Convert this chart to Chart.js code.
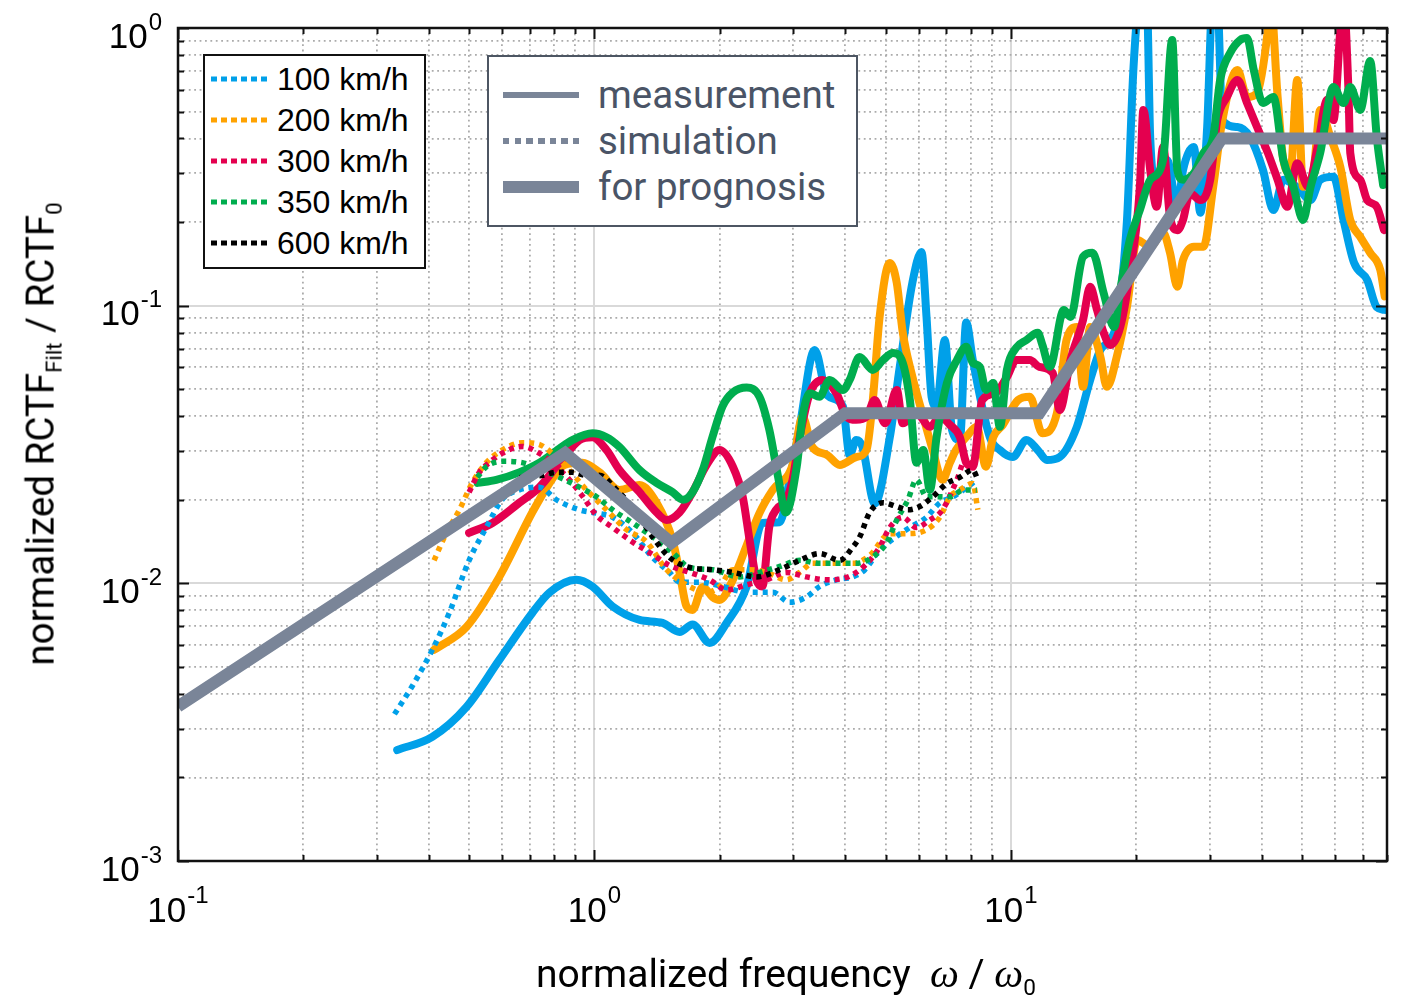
<!DOCTYPE html>
<html lang="en">
<head>
  <meta charset="UTF-8">
  <title>Normalized RCTF vs frequency</title>
  <style>
    body { margin: 0; background: #fff; }
    #wrap { position: relative; width: 1401px; height: 1001px; }
    #wrap canvas { display: block; }

    .legend { position: absolute; background: #fff; box-sizing: border-box; }
    .legend .row { position: absolute; left: 0; right: 0; height: 44px; }
    .legend .sample { position: absolute; top: 50%; transform: translateY(-50%); }
    .legend .txt { position: absolute; top: 0; line-height: 44px; white-space: nowrap; }

    #legSpeed { left: 203px; top: 54px; width: 223px; height: 215px; border: 2.5px solid #111;
      font: 32px 'Liberation Sans', Arial, sans-serif; color: #000; }
    #legType { left: 487px; top: 55px; width: 371px; height: 172px; border: 2px solid #4d5663;
      font: 38.5px Roboto, 'Noto Sans', sans-serif; color: #4a5466; }

    #yTitle { position: absolute; left: 42px; top: 434px; transform: translate(-50%, -50%) rotate(-90deg);
      white-space: nowrap; font: 38.5px Roboto, 'Noto Sans', sans-serif; color: #000; }
    #xTitle { position: absolute; left: 786px; top: 975px; transform: translate(-50%, -50%);
      white-space: nowrap; font: 39px Roboto, 'Noto Sans', sans-serif; color: #000; }
    sub { font-size: 58%; vertical-align: -0.35em; }
    .om { font-family: 'Liberation Serif', 'DejaVu Serif', serif; font-style: italic; font-size: 41px; }
  </style>
  <script src="https://cdn.jsdelivr.net/npm/chart.js"></script>
</head>
<body>
  <div id="wrap">
    <canvas id="chart"></canvas>
    <div id="legSpeed" class="legend"></div>
    <div id="legType" class="legend"></div>
    <div id="yTitle">normalized RCTF<sub>Filt</sub> / RCTF<sub>0</sub></div>
    <div id="xTitle">normalized frequency&nbsp;&nbsp;<span class="om">ω</span> / <span class="om">ω</span><sub>0</sub></div>
  </div>

  <script>
    // axis ranges and decade labels
    const xRange = [0.1, 80];
    const yRange = [0.001, 1];
    const xDecades = [0.1, 1, 10];
    const yDecades = [0.001, 0.01, 0.1, 1];

    // legend entries
    const speedLabels = ['100 km/h', '200 km/h', '300 km/h', '350 km/h', '600 km/h'];
    const speedColors = ['#00a0e9', '#ffa200', '#e4004f', '#00ad4e', '#000000'];
    const typeLabels = ['measurement', 'simulation', 'for prognosis'];
    const greyColor = '#7a8598';

    // prognosis envelope
    const progFreq = [0.1, 0.85, 1.53, 4.0, 11.7, 32.1, 80];
    const progVal = [0.0036, 0.0295, 0.014, 0.041, 0.041, 0.40, 0.40];

    // measurement 100 km/h
    const meas100Freq = [0.336, 0.408, 0.493, 0.591, 0.709, 0.779, 0.905, 0.989, 1.105, 1.283, 1.457, 1.601, 1.72, 1.89, 2.076, 2.32, 2.53, 2.784, 2.943, 3.11,
      3.38, 3.62, 3.95, 4.10, 4.25, 4.40, 4.71, 5.12, 5.41, 5.80, 6.10, 6.27, 6.45, 6.63, 6.94, 7.22, 7.54, 7.81, 8.10, 8.90,
      9.41, 10.1, 10.9, 11.6, 12.2, 13.1, 14.4, 15.5, 16.4, 17.3, 18.0, 19.0, 19.7, 20.4, 21.2, 21.6, 22.4, 23.7, 25.1, 25.9,
      27.5, 28.5, 29.6, 30.5, 31.3, 32.2, 35.0, 37.5, 40.3, 42.7, 45.1, 48.7, 52.4, 55.3, 59.5, 62.9, 66.7, 71.7, 75.6, 79];
    const meas100Val = [0.00251, 0.0028, 0.00359, 0.0053, 0.00782, 0.00925, 0.0103, 0.00974, 0.00826, 0.00738, 0.0072, 0.00668, 0.00711, 0.0061, 0.0072, 0.00974, 0.0165, 0.0166, 0.0236, 0.0366,
      0.0693, 0.0476, 0.0434, 0.029, 0.0328, 0.031, 0.0194, 0.0336, 0.0603, 0.121, 0.156, 0.0915, 0.047, 0.0434, 0.0752, 0.0357, 0.0328, 0.0869, 0.0637, 0.0336,
      0.0302, 0.0285, 0.0328, 0.0302, 0.0278, 0.0285, 0.0366, 0.054, 0.0693, 0.0752, 0.0888, 0.2035, 0.724, 1.26, 1.26, 0.405, 0.267, 0.335, 0.227, 0.308,
      0.373, 0.216, 0.44, 1.26, 1.26, 0.466, 0.44, 0.405, 0.308, 0.221, 0.284, 0.267, 0.24, 0.284, 0.291, 0.2035, 0.1425, 0.1238, 0.0987, 0.0965];

    // measurement 200 km/h
    const meas200Freq = [0.412, 0.493, 0.591, 0.709, 0.779, 0.847, 0.936, 1.028, 1.148, 1.283, 1.41, 1.54, 1.601, 1.664, 1.72, 1.82, 1.92, 1.997, 2.15, 2.32,
      2.49, 2.68, 2.99, 3.16, 3.33, 3.62, 3.88, 4.25, 4.50, 4.66, 4.84, 5.12, 5.32, 5.50, 5.80, 6.16, 6.49, 6.85, 7.14, 7.38,
      7.81, 8.28, 8.71, 9.07, 9.56, 10.4, 11.1, 11.9, 12.9, 13.6, 14.4, 14.9, 15.5, 16.4, 17.0, 18.0, 19.0, 20.1, 21.6, 23.2,
      24.1, 25.1, 25.9, 27.5, 29.0, 30.6, 32.2, 35.0, 36.9, 39.0, 41.4, 42.0, 43.7, 45.1, 46.9, 48.7, 50.3, 53.3, 55.3, 58.5,
      61.8, 65.3, 69.0, 72.9, 77.1, 79];
    const meas200Val = [0.00576, 0.00697, 0.01055, 0.018, 0.0229, 0.0267, 0.0272, 0.0251, 0.0217, 0.0226, 0.0195, 0.0143, 0.01095, 0.00826, 0.00802, 0.00971, 0.00893, 0.00871, 0.0103, 0.0137,
      0.0179, 0.0217, 0.0267, 0.0398, 0.0311, 0.029, 0.0267, 0.0285, 0.0302, 0.0457, 0.0913, 0.1425, 0.1208, 0.0799, 0.0555, 0.0398, 0.0302, 0.0236, 0.0272, 0.0302,
      0.0336, 0.0366, 0.0263, 0.0336, 0.0372, 0.0457, 0.047, 0.0347, 0.0411, 0.0752, 0.0837, 0.051, 0.0837, 0.0655, 0.051, 0.0665, 0.099, 0.1724, 0.163, 0.183,
      0.155, 0.117, 0.146, 0.163, 0.163, 0.268, 0.466, 0.706, 0.564, 0.583, 0.983, 1.26, 0.564, 0.335, 0.30, 0.65, 0.268, 0.308, 0.507, 0.405,
      0.316, 0.2035, 0.177, 0.155, 0.1345, 0.108];

    // measurement 300 km/h
    const meas300Freq = [0.5, 0.569, 0.66, 0.738, 0.824, 0.92, 0.989, 1.069, 1.148, 1.283, 1.41, 1.49, 1.6, 1.72, 1.86, 1.997, 2.15, 2.27, 2.358, 2.45,
      2.53, 2.63, 2.73, 2.89, 2.99, 3.11, 3.29, 3.53, 3.81, 4.03, 4.25, 4.5, 4.71, 4.99, 5.32, 5.5, 5.93, 6.39, 6.75, 7.14,
      7.54, 7.81, 8.1, 8.53, 9.16, 9.78, 10.3, 11.1, 11.7, 12.6, 13.1, 13.9, 14.9, 15.5, 16.1, 16.7, 17.3, 18.3, 19.3, 20.4,
      20.8, 21.6, 22.4, 23.2, 24.1, 25.1, 25.9, 26.9, 28.5, 30.1, 31.3, 33.0, 35.0, 36.9, 39.0, 41.4, 43.7, 46.1, 48.7, 51.7,
      54.5, 57.5, 59.5, 61.8, 62.9, 64.6, 65.3, 69.0, 71.7, 75.6, 78.7];
    const meas300Val = [0.0152, 0.0165, 0.0195, 0.0222, 0.0272, 0.0328, 0.0336, 0.0302, 0.0256, 0.0213, 0.018, 0.0169, 0.018, 0.0213, 0.0267, 0.0302, 0.0263, 0.0205, 0.0143, 0.0103,
      0.00974, 0.016, 0.0184, 0.02, 0.0236, 0.0336, 0.0484, 0.054, 0.0484, 0.0398, 0.0388, 0.0398, 0.0457, 0.0377, 0.0497, 0.0377, 0.0411, 0.0366, 0.0398, 0.0372,
      0.0336, 0.0272, 0.0263, 0.0457, 0.0484, 0.0553, 0.0637, 0.0637, 0.0602, 0.0573, 0.0421, 0.0637, 0.0888, 0.117, 0.0965, 0.0799, 0.0722, 0.0837, 0.131, 0.267,
      0.507, 0.308, 0.227, 0.373, 0.209, 0.187, 0.2035, 0.254, 0.24, 0.284, 0.466, 0.564, 0.65, 0.537, 0.44, 0.355, 0.284, 0.227, 0.326, 0.268,
      0.373, 0.551, 0.466, 0.983, 1.26, 0.613, 0.355, 0.284, 0.24, 0.227, 0.187];

    // measurement 350 km/h
    const meas350Freq = [0.524, 0.581, 0.66, 0.738, 0.824, 0.885, 0.989, 1.069, 1.148, 1.283, 1.41, 1.54, 1.63, 1.72, 1.82, 1.92, 2.03, 2.15, 2.32, 2.49,
      2.63, 2.76, 2.88, 3.06, 3.16, 3.29, 3.47, 3.67, 3.95, 4.10, 4.33, 4.66, 4.93, 5.21, 5.50, 5.72, 5.93, 6.16, 6.39, 6.63,
      7.02, 7.42, 7.81, 8.10, 8.42, 8.71, 9.07, 9.41, 9.78, 10.3, 10.9, 11.6, 11.9, 12.4, 13.4, 13.9, 14.9, 15.7, 16.7, 17.7,
      18.3, 19.3, 20.4, 21.6, 23.2, 24.4, 25.1, 25.9, 27.5, 29.0, 30.6, 31.8, 33.6, 35.5, 36.9, 38.3, 40.3, 42.7, 45.1, 47.7,
      50.3, 52.4, 55.3, 59.5, 62.9, 65.3, 69.0, 72.9, 75.6, 78.3];
    const meas350Val = [0.023, 0.0236, 0.0251, 0.0272, 0.0306, 0.0328, 0.0347, 0.0336, 0.031, 0.0256, 0.023, 0.0213, 0.02, 0.0213, 0.0256, 0.0336, 0.0434, 0.0487, 0.0507, 0.047,
      0.0357, 0.0242, 0.018, 0.0263, 0.0398, 0.0484, 0.047, 0.054, 0.0497, 0.054, 0.0653, 0.0587, 0.0637, 0.0675, 0.0622, 0.0457, 0.0272, 0.0302, 0.0217, 0.0336,
      0.0527, 0.0637, 0.0711, 0.0622, 0.0602, 0.0497, 0.0527, 0.0366, 0.0587, 0.0706, 0.0752, 0.0799, 0.0722, 0.0602, 0.0965, 0.0911, 0.15, 0.155, 0.111, 0.0837,
      0.1139, 0.1724, 0.221, 0.284, 0.335, 0.905, 0.308, 0.284, 0.30, 0.355, 0.405, 0.65, 0.813, 0.905, 0.92, 0.706, 0.537, 0.564, 0.335, 0.267,
      0.2035, 0.267, 0.355, 0.613, 0.537, 0.613, 0.507, 0.76, 0.405, 0.272];

    // simulations
    const sim100Freq = [0.331, 0.365, 0.408, 0.448, 0.5, 0.55, 0.6, 0.66, 0.738, 0.81, 0.92, 1.011, 1.105, 1.234, 1.379, 1.514, 1.601, 1.788, 2.03, 2.32,
      2.68, 2.943, 3.23, 3.474, 3.81, 4.17, 4.46, 4.84, 5.26, 5.72, 6.27, 6.75, 7.26, 7.69, 8.28];
    const sim100Val = [0.00338, 0.00426, 0.00576, 0.00782, 0.0121, 0.0159, 0.02, 0.0217, 0.0222, 0.02, 0.0184, 0.0179, 0.0173, 0.0152, 0.0124, 0.01095, 0.0101, 0.0101, 0.00974, 0.00929,
      0.00929, 0.00855, 0.00893, 0.00974, 0.0103, 0.01055, 0.0112, 0.0132, 0.0146, 0.0159, 0.0173, 0.0195, 0.0205, 0.0217, 0.0236];

    const sim200Freq = [0.412, 0.441, 0.474, 0.508, 0.55, 0.6, 0.671, 0.738, 0.792, 0.856, 0.957, 1.069, 1.194, 1.334, 1.49, 1.692, 1.86, 1.997, 2.15, 2.358,
      2.59, 2.89, 3.11, 3.34, 3.73, 4.17, 4.58, 5.12, 5.66, 6.27, 6.75, 7.14, 7.54, 8.10, 8.33];
    const sim200Val = [0.0121, 0.0152, 0.0184, 0.0229, 0.0272, 0.0302, 0.0321, 0.0316, 0.0294, 0.0263, 0.0217, 0.0184, 0.0156, 0.0141, 0.0112, 0.00974, 0.00929, 0.00974, 0.0112, 0.0112,
      0.01095, 0.0103, 0.01095, 0.0118, 0.0118, 0.0118, 0.0126, 0.0151, 0.0151, 0.0156, 0.0173, 0.0205, 0.0217, 0.0229, 0.0184];

    const sim300Freq = [0.5, 0.529, 0.559, 0.6, 0.671, 0.738, 0.81, 0.871, 0.936, 1.011, 1.105, 1.234, 1.379, 1.514, 1.692, 1.89, 2.076, 2.32, 2.59, 2.89,
      3.23, 3.62, 4.03, 4.46, 4.84, 5.12, 5.5, 5.93, 6.39, 6.85, 7.42, 7.81, 8.18];
    const sim300Val = [0.0213, 0.0251, 0.0272, 0.0294, 0.0311, 0.0294, 0.0263, 0.0236, 0.0206, 0.0176, 0.0159, 0.0141, 0.0127, 0.0116, 0.01095, 0.0103, 0.00947, 0.00988, 0.0103, 0.01095,
      0.01055, 0.0103, 0.0105, 0.0116, 0.0135, 0.0159, 0.0173, 0.0159, 0.0169, 0.0184, 0.0236, 0.0285, 0.0272];

    const sim350Freq = [0.523, 0.55, 0.6, 0.671, 0.75, 0.824, 0.92, 1.011, 1.105, 1.234, 1.379, 1.54, 1.692, 1.92, 2.231, 2.49, 2.784, 3.11, 3.474, 3.88,
      4.25, 4.71, 5.03, 5.32, 5.66, 5.93, 6.27, 6.75, 7.14, 7.69, 8.28];
    const sim350Val = [0.0241, 0.0263, 0.0275, 0.0272, 0.0256, 0.0241, 0.0222, 0.0205, 0.0184, 0.0165, 0.0147, 0.0129, 0.0114, 0.0112, 0.01055, 0.01095, 0.0115, 0.0121, 0.0118, 0.0118,
      0.0118, 0.0126, 0.014, 0.0169, 0.02, 0.0236, 0.0205, 0.0205, 0.0205, 0.0217, 0.0217];

    const sim600Freq = [0.66, 0.75, 0.81, 0.885, 0.957, 1.028, 1.13, 1.262, 1.379, 1.514, 1.692, 1.92, 2.15, 2.45, 2.784, 3.11, 3.474, 3.88, 4.17, 4.335,
      4.58, 4.93, 5.32, 5.66, 6.04, 6.49, 7.02, 7.54, 8.10, 8.33];
    const sim600Val = [0.024, 0.0245, 0.0251, 0.0251, 0.0245, 0.0245, 0.0217, 0.018, 0.0147, 0.0124, 0.0114, 0.0112, 0.01095, 0.01055, 0.0112, 0.0121, 0.0128, 0.0121, 0.0135, 0.0147,
      0.018, 0.0195, 0.0189, 0.0184, 0.0189, 0.0205, 0.0229, 0.0241, 0.0256, 0.0236];

    // helpers
    const pts = (fx, fy) => fx.map((f, i) => ({ x: f, y: fy[i] }));
    const isDecade = v => Math.abs(Math.log10(v) - Math.round(Math.log10(v))) < 1e-6;
    const logGrid = (lo, hi) => {
      const out = [];
      for (let e = Math.floor(Math.log10(lo)); e <= Math.ceil(Math.log10(hi)); e++) {
        for (let m = 1; m <= 9; m++) {
          const v = +(m * Math.pow(10, e)).toPrecision(6);
          if (v >= lo - 1e-12 && v <= hi + 1e-9) out.push(v);
        }
      }
      return out;
    };
    const xGridVals = logGrid(xRange[0], xRange[1]);
    const yGridVals = logGrid(yRange[0], yRange[1]);

    const solid = (label, f, v, color) => ({
      label, data: pts(f, v), borderColor: color, borderWidth: 8,
      cubicInterpolationMode: 'monotone', pointRadius: 0, clip: 0, borderJoinStyle: 'round', borderCapStyle: 'round'
    });
    const dotted = (label, f, v, color) => ({
      label, data: pts(f, v), borderColor: color, borderWidth: 5.5, borderDash: [5, 5],
      cubicInterpolationMode: 'monotone', pointRadius: 0, clip: 0
    });

    const datasets = [
      { label: 'for prognosis', data: pts(progFreq, progVal), borderColor: greyColor, borderWidth: 12,
        tension: 0, pointRadius: 0, clip: 0, borderJoinStyle: 'miter' },
      dotted('600 km/h simulation', sim600Freq, sim600Val, speedColors[4]),
      dotted('350 km/h simulation', sim350Freq, sim350Val, speedColors[3]),
      dotted('300 km/h simulation', sim300Freq, sim300Val, speedColors[2]),
      dotted('200 km/h simulation', sim200Freq, sim200Val, speedColors[1]),
      dotted('100 km/h simulation', sim100Freq, sim100Val, speedColors[0]),
      solid('350 km/h measurement', meas350Freq, meas350Val, speedColors[3]),
      solid('300 km/h measurement', meas300Freq, meas300Val, speedColors[2]),
      solid('200 km/h measurement', meas200Freq, meas200Val, speedColors[1]),
      solid('100 km/h measurement', meas100Freq, meas100Val, speedColors[0])
    ];

    const gridColor = c => (c.tick && isDecade(c.tick.value)) ? '#d9d9d9' : '#ababab';
    const gridWidth = c => (c.tick && isDecade(c.tick.value)) ? 2 : 1.8;
    const gridDash = c => (c.tick && isDecade(c.tick.value)) ? [] : [1.8, 3.6];

    // box, inner tick marks and 10^n labels
    const framePlugin = {
      id: 'frame',
      afterDraw(chart) {
        const { ctx, chartArea: a, scales: { x, y } } = chart;
        ctx.save();
        ctx.strokeStyle = '#111';
        ctx.lineWidth = 2;
        ctx.beginPath();
        xGridVals.forEach(v => {
          const p = Math.round(x.getPixelForValue(v)) + 0.5;
          const L = isDecade(v) ? 11 : 6;
          ctx.moveTo(p, a.bottom); ctx.lineTo(p, a.bottom - L);
          ctx.moveTo(p, a.top); ctx.lineTo(p, a.top + L);
        });
        yGridVals.forEach(v => {
          const p = Math.round(y.getPixelForValue(v)) + 0.5;
          const L = isDecade(v) ? 11 : 6;
          ctx.moveTo(a.left, p); ctx.lineTo(a.left + L, p);
          ctx.moveTo(a.right, p); ctx.lineTo(a.right - L, p);
        });
        ctx.stroke();
        ctx.lineWidth = 2.5;
        ctx.strokeRect(a.left, a.top, a.right - a.left, a.bottom - a.top);

        const baseFont = "35px 'Liberation Sans', Arial, sans-serif";
        const expFont = "24px 'Liberation Sans', Arial, sans-serif";
        ctx.fillStyle = '#000';
        ctx.textAlign = 'left';
        ctx.textBaseline = 'alphabetic';
        const widths = e => {
          ctx.font = baseFont; const w1 = ctx.measureText('10').width;
          ctx.font = expFont; const w2 = ctx.measureText(e).width;
          return [w1, w2];
        };
        xDecades.forEach(v => {
          const e = String(Math.round(Math.log10(v)));
          const [w1, w2] = widths(e);
          const s = x.getPixelForValue(v) - (w1 + w2 + 1) / 2;
          ctx.font = baseFont; ctx.fillText('10', s, a.bottom + 61);
          ctx.font = expFont; ctx.fillText(e, s + w1 + 1, a.bottom + 42);
        });
        yDecades.forEach(v => {
          const e = String(Math.round(Math.log10(v)));
          const [w1, w2] = widths(e);
          const py = y.getPixelForValue(v);
          const s = 162 - (w1 + w2 + 1);
          ctx.font = baseFont; ctx.fillText('10', s, py + 19.5);
          ctx.font = expFont; ctx.fillText(e, s + w1 + 1, py + 1.5);
        });
        ctx.restore();
      }
    };

    new Chart(document.getElementById('chart'), {
      type: 'line',
      data: { datasets },
      options: {
        responsive: true,
        maintainAspectRatio: false,
        animation: false,
        events: [],
        layout: { padding: { left: 0, right: 14, top: 28, bottom: 0 } },
        plugins: { legend: { display: false }, tooltip: { enabled: false } },
        scales: {
          x: {
            type: 'logarithmic', min: xRange[0], max: xRange[1],
            afterBuildTicks: s => { s.ticks = xGridVals.map(v => ({ value: v })); },
            afterFit: s => { s.height = 140; },
            ticks: { display: false },
            grid: { drawTicks: false, color: gridColor, lineWidth: gridWidth },
            border: { display: false, dash: gridDash }
          },
          y: {
            type: 'logarithmic', min: yRange[0], max: yRange[1],
            afterBuildTicks: s => { s.ticks = yGridVals.map(v => ({ value: v })); },
            afterFit: s => { s.width = 178; },
            ticks: { display: false },
            grid: { drawTicks: false, color: gridColor, lineWidth: gridWidth },
            border: { display: false, dash: gridDash }
          }
        }
      },
      plugins: [framePlugin]
    });

    // legends
    const legSpeed = document.getElementById('legSpeed');
    speedLabels.forEach((lab, i) => {
      const row = document.createElement('div');
      row.className = 'row';
      row.style.top = (25 + i * 41 - 22 - 2.5) + 'px';
      row.innerHTML = '<div class="sample" style="left:6px;width:57px;height:5px;background:repeating-linear-gradient(to right,' +
        speedColors[i] + ' 0 6px, transparent 6px 10px)"></div><div class="txt" style="left:72px">' + lab + '</div>';
      legSpeed.appendChild(row);
    });

    const legType = document.getElementById('legType');
    const typeSamples = [
      'height:6px;background:' + greyColor,
      'height:6px;background:repeating-linear-gradient(to right,' + greyColor + ' 0 6.5px, transparent 6.5px 11.7px)',
      'height:12px;background:' + greyColor
    ];
    typeLabels.forEach((lab, i) => {
      const row = document.createElement('div');
      row.className = 'row';
      row.style.top = (40 + i * 46 - 22 - 2) + 'px';
      row.innerHTML = '<div class="sample" style="left:14px;width:76px;' + typeSamples[i] + '"></div>' +
        '<div class="txt" style="left:109px">' + lab + '</div>';
      legType.appendChild(row);
    });
  </script>
</body>
</html>
